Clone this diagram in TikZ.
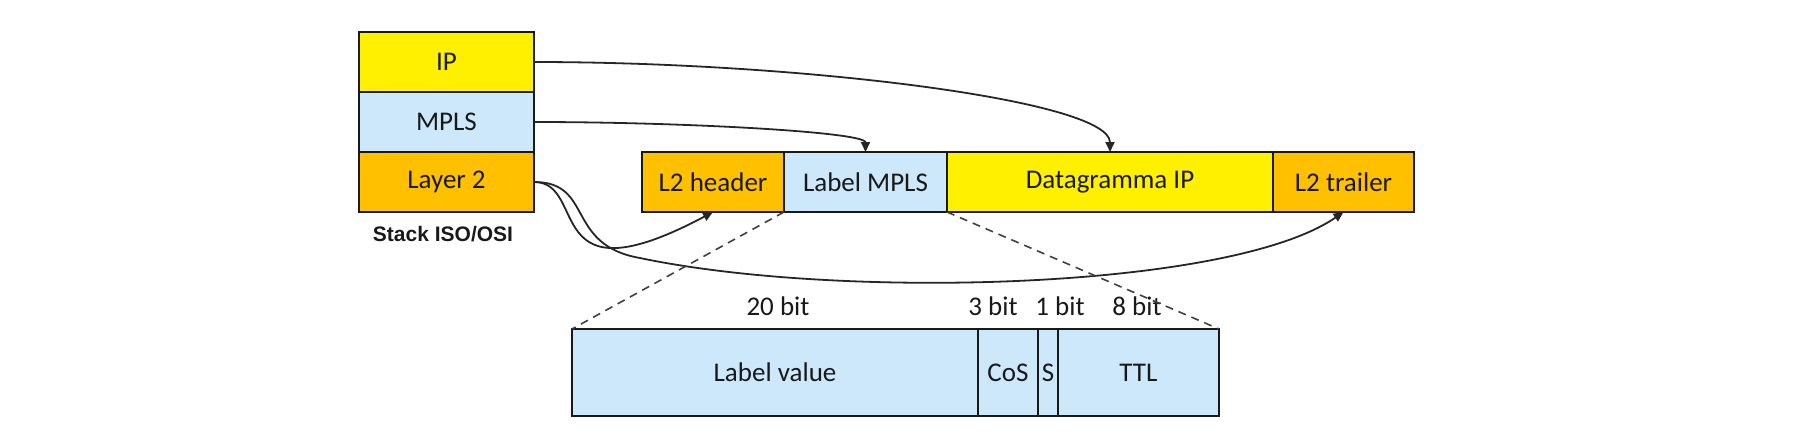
\documentclass[tikz,border=0pt]{standalone}
\usepackage{fontspec}
\setmainfont{Carlito}
\newfontfamily\stackfont{Liberation Sans}
\usetikzlibrary{positioning,arrows.meta}

\definecolor{ipyellow}{RGB}{255,240,0}
\definecolor{ltorange}{RGB}{255,192,0}
\definecolor{mplsblue}{RGB}{204,232,250}

\tikzset{
  field/.style={draw=black!90, line width=1pt, minimum height=30pt, inner sep=0pt, outer sep=0pt,
    text=black!90, font=\fontsize{13.5}{16}\selectfont},
  bitfield/.style={field, fill=mplsblue, minimum height=43.5pt},
  bitlabel/.style={text=black!90, font=\fontsize{13.5}{16}\selectfont},
  link/.style={-{Triangle[length=5pt,width=4.5pt]}, line width=0.9pt, black!85},
  zoomline/.style={dashed, dash pattern=on 4pt off 3pt, line width=0.8pt, black!75}
}

\begin{document}
\begin{tikzpicture}[x=0.5pt, y=-0.5pt]
  \useasboundingbox (0,0) rectangle (1799,435);

  % Stack ISO/OSI
  \node[field, fill=ipyellow, minimum width=87.5pt] (ip) at (446.5,62) {IP};
  \node[field, fill=mplsblue, minimum width=87.5pt, below=0pt of ip] (mpls) {MPLS};
  \node[field, fill=ltorange, minimum width=87.5pt, below=0pt of mpls] (lay2) {Layer 2};
  \node[text=black!90, font=\stackfont\bfseries\fontsize{10.5}{12}\selectfont] (stk) at (443,234) {Stack ISO/OSI};

  % frame
  \node[field, fill=ltorange, minimum width=71pt] (hdr) at (713,182) {L2 header};
  \node[field, fill=mplsblue, minimum width=81.5pt, right=0pt of hdr] (lbl) {Label MPLS};
  \node[field, fill=ipyellow, minimum width=163pt, right=0pt of lbl] (dg) {Datagramma IP};
  \node[field, fill=ltorange, minimum width=70.5pt, right=0pt of dg] (trl) {L2 trailer};

  % label fields
  \node[bitfield, minimum width=203pt] (lv) at (775,372.5) {Label value};
  \node[bitfield, minimum width=30pt, right=0pt of lv] (cos) {CoS};
  \node[bitfield, minimum width=10pt, right=0pt of cos] (sb) {S};
  \node[bitfield, minimum width=80.5pt, right=0pt of sb] (ttl) {TTL};

  \node[bitlabel] (b20) at (778,306) {20 bit};
  \node[bitlabel] (b3) at (993,306) {3 bit};
  \node[bitlabel] (b1) at (1060,306) {1 bit};
  \node[bitlabel] (b8) at (1137,306) {8 bit};

  % connectors
  \draw[link] (ip.east) to[out=0, in=90, out distance=132pt, in distance=26pt] (dg.north);
  \draw[link] (mpls.east) to[out=0, in=90, out distance=75pt, in distance=10pt] (lbl.north);
  \draw[link] (lay2.east) .. controls +(55,0) and +(-173,92) .. (hdr.south);
  \coordinate (dip) at (640,258);
  \draw[link] (lay2.east) .. controls +(60,0) and +(-75,-13) .. (dip)
    .. controls +(200,42) and +(-113,78) .. (trl.south);

  % zoom lines
  \draw[zoomline] (hdr.south east) -- (lv.north west);
  \draw[zoomline] (lbl.south east) -- (ttl.north east);
\end{tikzpicture}
\end{document}
